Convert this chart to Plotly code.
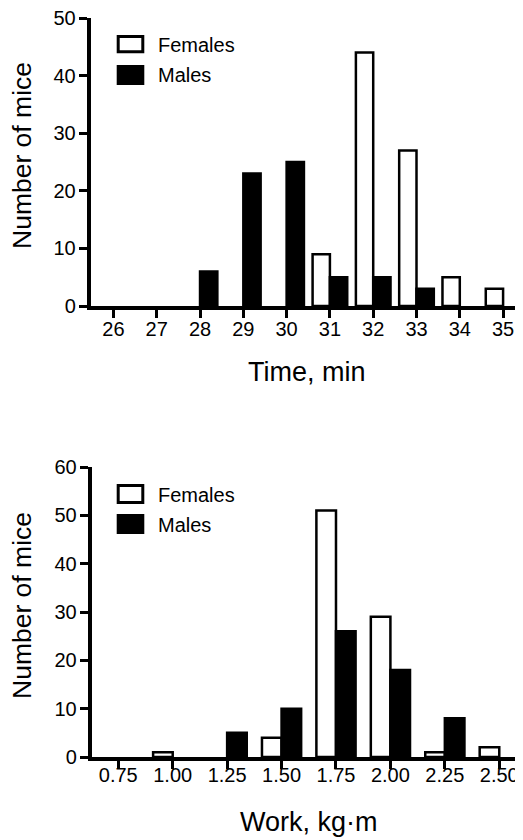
import plotly.graph_objects as go

# ---- data ----
time_bins = [26, 27, 28, 29, 30, 31, 32, 33, 34, 35]
time_females = [0, 0, 0, 0, 0, 9, 44, 27, 5, 3]
time_males = [0, 0, 6, 23, 25, 5, 5, 3, 0, 0]

work_bins = [0.75, 1.00, 1.25, 1.50, 1.75, 2.00, 2.25, 2.50]
work_labels = ["0.75", "1.00", "1.25", "1.50", "1.75", "2.00", "2.25", "2.50"]
work_females = [0, 1, 0, 4, 51, 29, 1, 2]
work_males = [0, 0, 5, 10, 26, 18, 8, 0]

top_yticks = [0, 10, 20, 30, 40, 50]
bot_yticks = [0, 10, 20, 30, 40, 50, 60]

# page has an 8px body margin; figure fills the rest of the 523x840 window
OFF = 8
W, H = 523 - OFF, 840 - OFF
FONT = "Liberation Sans, Arial, sans-serif"
AXW = 3.5
BARLW = 2.5


def px_x(p):
    return (p - OFF) / W


def px_y(p):
    return 1 - (p - OFF) / H


def lw(vals):
    return [BARLW if v > 0 else 0 for v in vals]


fig = go.Figure()

wt = 0.40
wb = 0.09
fig.add_trace(go.Bar(x=time_bins, y=time_females, width=wt, offset=-wt,
                     marker=dict(color="white", line=dict(color="black", width=lw(time_females))),
                     xaxis="x", yaxis="y", showlegend=False, name="Females"))
fig.add_trace(go.Bar(x=time_bins, y=time_males, width=wt, offset=0,
                     marker=dict(color="black", line=dict(color="black", width=lw(time_males))),
                     xaxis="x", yaxis="y", showlegend=False, name="Males"))
fig.add_trace(go.Bar(x=work_bins, y=work_females, width=wb, offset=-wb,
                     marker=dict(color="white", line=dict(color="black", width=lw(work_females))),
                     xaxis="x2", yaxis="y2", showlegend=False, name="Females"))
fig.add_trace(go.Bar(x=work_bins, y=work_males, width=wb, offset=0,
                     marker=dict(color="black", line=dict(color="black", width=lw(work_males))),
                     xaxis="x2", yaxis="y2", showlegend=False, name="Males"))

axis_common = dict(showgrid=False, zeroline=False, showline=True, linecolor="black",
                   linewidth=AXW, ticks="outside", tickcolor="black", tickwidth=2.5,
                   ticklen=8, tickfont=dict(family=FONT, size=20, color="black"),
                   layer="above traces", automargin=False, ticklabeloverflow="allow")

fig.update_layout(
    template="none",
    width=W, height=H,
    margin=dict(l=0, r=0, t=0, b=0, pad=0),
    paper_bgcolor="white", plot_bgcolor="white",
    barmode="overlay",
    showlegend=False,
    font=dict(family=FONT, color="black"),
    xaxis=dict(domain=[px_x(90.5), 1], range=[25.47, 35.46], anchor="y",
               tickmode="array", tickvals=time_bins, ticklabelstandoff=-6, **axis_common),
    yaxis=dict(domain=[px_y(306), px_y(18)], range=[0, 50], anchor="x",
               tickmode="array", tickvals=top_yticks, ticklabelstandoff=-1, **axis_common),
    xaxis2=dict(domain=[px_x(91.5), 1], range=[0.627, 2.609], anchor="y2",
                tickmode="array", tickvals=work_bins, ticktext=work_labels,
                ticklabelstandoff=-11, **axis_common),
    yaxis2=dict(domain=[px_y(757), px_y(467)], range=[0, 60], anchor="x2",
                tickmode="array", tickvals=bot_yticks, ticklabelstandoff=-1, **axis_common),
)

# axis titles
ann = []
ytitle_font = dict(family=FONT, size=26.5, color="black")
xtitle_font = dict(family=FONT, size=27, color="black")
ann.append(dict(text="Number of mice", x=px_x(22), y=px_y(156), xref="paper", yref="paper",
                textangle=-90, showarrow=False, font=ytitle_font, xanchor="center", yanchor="middle"))
ann.append(dict(text="Number of mice", x=px_x(22), y=px_y(606), xref="paper", yref="paper",
                textangle=-90, showarrow=False, font=ytitle_font, xanchor="center", yanchor="middle"))
ann.append(dict(text="Time, min", x=px_x(306.5), y=px_y(372), xref="paper", yref="paper",
                showarrow=False, font=xtitle_font, xanchor="center", yanchor="middle"))
ann.append(dict(text="Work, kg·m", x=px_x(309), y=px_y(822), xref="paper", yref="paper",
                showarrow=False, font=xtitle_font, xanchor="center", yanchor="middle"))

# custom legends
shapes = []
leg_font = dict(family=FONT, size=20, color="black")
for (fy0, fy1, my0, my1, ft, mt) in [(35, 53.3, 65, 85, 45, 75), (484, 504, 514, 534, 495, 525)]:
    shapes.append(dict(type="rect", xref="paper", yref="paper",
                       x0=px_x(118.2), x1=px_x(142.8), y0=px_y(fy0 + 1.5), y1=px_y(fy1 - 1.5),
                       line=dict(color="black", width=3), fillcolor="white"))
    shapes.append(dict(type="rect", xref="paper", yref="paper",
                       x0=px_x(116.7), x1=px_x(144.3), y0=px_y(my0), y1=px_y(my1),
                       line=dict(width=0), fillcolor="black"))
    ann.append(dict(text="Females", x=px_x(156), y=px_y(ft), xref="paper", yref="paper",
                    showarrow=False, font=leg_font, xanchor="left", yanchor="middle"))
    ann.append(dict(text="Males", x=px_x(156), y=px_y(mt), xref="paper", yref="paper",
                    showarrow=False, font=leg_font, xanchor="left", yanchor="middle"))

fig.update_layout(annotations=ann, shapes=shapes)

fig.write_html("out.html")
